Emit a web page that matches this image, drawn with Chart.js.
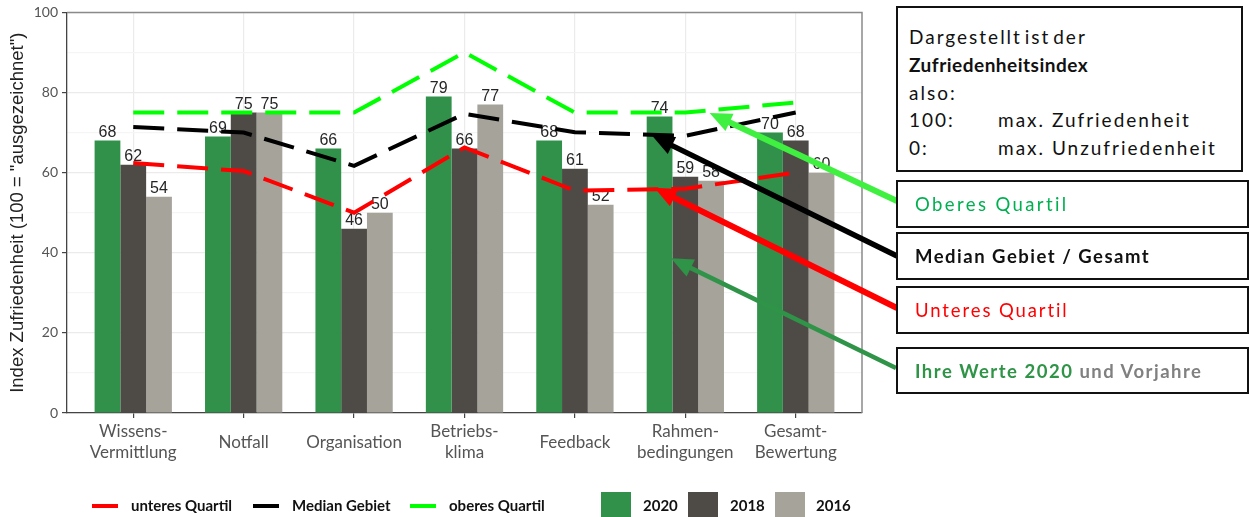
<!DOCTYPE html>
<html>
<head>
<meta charset="utf-8">
<script src="https://cdn.jsdelivr.net/npm/chart.js@4.4.1/dist/chart.umd.min.js"></script>
<style>
html,body{margin:0;padding:0;background:#fff;}
#wrap{position:relative;width:1249px;height:517px;overflow:hidden;background:#fff;}
#c{position:absolute;left:0;top:0;}
.box{position:absolute;border:2px solid #111;background:#fff;box-sizing:border-box;font-family:Lato,"Open Sans",sans-serif;font-size:18.5px;color:#111;}
.one{display:flex;align-items:center;padding-left:17px;}
.info{padding:15px 0 0 11px;line-height:27.8px;letter-spacing:2px;font-size:19px;}
.info .k{display:inline-block;width:89px;}
.leg{position:absolute;font-family:Lato,"Open Sans",sans-serif;font-weight:bold;font-size:15px;color:#111;white-space:nowrap;}
.sw{position:absolute;}
</style>
</head>
<body>
<div id="wrap">
<canvas id="c" width="1249" height="517"></canvas>
<div class="box info" style="left:896px;top:6px;width:347px;height:166px;">
  <div style="word-spacing:-4px;">Dargestellt ist der</div>
  <div style="font-weight:bold;letter-spacing:0.5px;">Zufriedenheitsindex</div>
  <div>also:</div>
  <div><span class="k">100:</span>max. Zufriedenheit</div>
  <div><span class="k">0:</span>max. Unzufriedenheit</div>
</div>
<div class="box one" style="left:896px;top:180px;width:353px;height:48px;color:#00b050;letter-spacing:2.4px;">Oberes Quartil</div>
<div class="box one" style="left:896px;top:232px;width:353px;height:48px;font-weight:bold;letter-spacing:1.5px;">Median Gebiet / Gesamt</div>
<div class="box one" style="left:896px;top:286px;width:353px;height:48px;color:#ff0000;letter-spacing:1.9px;">Unteres Quartil</div>
<div class="box one" style="left:896px;top:347px;width:353px;height:47px;font-weight:bold;letter-spacing:1.5px;"><span style="color:#2f9447;">Ihre Werte 2020</span>&nbsp;<span style="color:#808080;">und Vorjahre</span></div>
<div id="legend"></div>
</div>
<script>
// ---- data ----
const categories = [["Wissens-","Vermittlung"],["Notfall"],["Organisation"],["Betriebs-","klima"],["Feedback"],["Rahmen-","bedingungen"],["Gesamt-","Bewertung"]];
const yearLabels = ["2020","2018","2016"];
const values2020 = [68,69,66,79,68,74,70];
const values2018 = [62,75,46,66,61,59,68];
const values2016 = [54,75,50,77,52,58,60];
const lineLabels = ["unteres Quartil","Median Gebiet","oberes Quartil"];
const lowerQuartile = [62.4,60.4,50,66.3,55.5,56,60];
const medianArea = [71.4,70,61.7,74.7,70.1,69.2,75];
const upperQuartile = [75,75,75,90,75,75,77.5];
const yTicks = [0,20,40,60,80,100];

// ---- styles ----
const barColors = ["#31914a","#4e4b47","#a6a39b"];
const lineColors = ["#ff0000","#000000","#00ff00"];

const pts = arr => arr.map((v,i)=>({x:i,y:v}));
const barSeries = [values2020, values2018, values2016];
const lineSeries = [lowerQuartile, medianArea, upperQuartile];

const datasets = [];
barSeries.forEach((s,k)=>datasets.push({
  type:'bar', label:yearLabels[k], data:pts(s), backgroundColor:barColors[k],
  borderWidth:0, categoryPercentage:0.7, barPercentage:1.0, order:5
}));
lineSeries.forEach((s,k)=>datasets.push({
  type:'line', label:lineLabels[k], data:pts(s), borderColor:lineColors[k],
  borderWidth:4, borderDash:[31,13], pointRadius:0, tension:0, fill:false,
  borderCapStyle:'butt', order:3-k*0.5
}));

// arrows: tip in data coords, tail in page pixels
const arrows = [
  {color:"#40f040", width:6, tip:[5.22,74.9], tail:[897,201]},
  {color:"#000000", width:5.5, tip:[4.70,69.2], tail:[897,256]},
  {color:"#ff0000", width:6, tip:[4.72,56.2], tail:[897,308]},
  {color:"#2f9447", width:4.5, tip:[4.87,38.6], tail:[896,368]}
];

const labelPlugin = {
  id:'barLabels',
  afterDatasetDraw(chart,args){
    if(args.index!==0) return;
    const ctx=chart.ctx;
    ctx.save();
    ctx.font='16px "Liberation Sans", Arial, sans-serif';
    ctx.fillStyle='#262626';
    ctx.textAlign='center';
    ctx.textBaseline='alphabetic';
    for(let d=0; d<barSeries.length; d++){
      const meta=chart.getDatasetMeta(d);
      meta.data.forEach((el,i)=>{
        ctx.fillText(String(Math.round(barSeries[d][i])), el.x, el.y-4);
      });
    }
    ctx.restore();
  }
};

const borderPlugin = {
  id:'panelBorder',
  beforeDatasetsDraw(chart){
    const {ctx, chartArea:a} = chart;
    ctx.save();
    ctx.strokeStyle='#8a8a8a';
    ctx.lineWidth=1.5;
    ctx.beginPath();
    ctx.moveTo(a.left, a.top); ctx.lineTo(a.right, a.top); ctx.lineTo(a.right, a.bottom);
    ctx.stroke();
    ctx.restore();
  }
};

const arrowPlugin = {
  id:'arrows',
  afterDraw(chart){
    const ctx=chart.ctx, xs=chart.scales.x, ys=chart.scales.y;
    arrows.forEach(a=>{
      const x1=xs.getPixelForValue(a.tip[0]), y1=ys.getPixelForValue(a.tip[1]);
      const x0=a.tail[0], y0=a.tail[1];
      const ang=Math.atan2(y1-y0,x1-x0), c=Math.cos(ang), s=Math.sin(ang);
      const hl=22, hw=9.5;
      const bx=x1-hl*c, by=y1-hl*s;
      ctx.save();
      ctx.strokeStyle=a.color; ctx.fillStyle=a.color; ctx.lineWidth=a.width; ctx.lineCap='butt';
      ctx.beginPath(); ctx.moveTo(x0,y0); ctx.lineTo(bx+2*c,by+2*s); ctx.stroke();
      ctx.beginPath(); ctx.moveTo(x1,y1); ctx.lineTo(bx+hw*s,by-hw*c); ctx.lineTo(bx-hw*s,by+hw*c); ctx.closePath(); ctx.fill();
      ctx.restore();
    });
  }
};

const chart = new Chart(document.getElementById('c'), {
  data:{datasets},
  options:{
    responsive:false, animation:false, devicePixelRatio:1,
    layout:{padding:{left:0, top:11, right:387, bottom:0}},
    plugins:{legend:{display:false}, tooltip:{enabled:false}},
    scales:{
      x:{
        type:'linear', min:-0.6, max:6.6, offset:false, bounds:'data',
        afterBuildTicks(scale){ scale.ticks = categories.map((c,i)=>({value:i})); },
        afterFit(scale){ scale.height = 104; },
        ticks:{
          callback:(v)=>categories[v] || '',
          autoSkip:false, maxRotation:0, minRotation:0, crossAlign:'center',
          padding:14, color:'#555',
          font:{family:'Lato, "Open Sans", sans-serif', size:17, lineHeight:1.2}
        },
        grid:{offset:false, color:'#ebebeb', lineWidth:1.2, tickColor:'#444', tickLength:5, drawTicks:true},
        border:{display:true, color:'#444', width:1.3}
      },
      y:{
        type:'linear', min:0, max:100,
        afterFit(scale){ scale.width = 67; },
        ticks:{
          stepSize:10,
          callback:(v)=>yTicks.includes(v)?String(v):'',
          padding:4, color:'#555',
          font:{family:'Lato, "Open Sans", sans-serif', size:14}
        },
        grid:{
          color:(c)=>yTicks.includes(c.tick.value)?'#ebebeb':'#f5f5f5',
          tickColor:(c)=>yTicks.includes(c.tick.value)?'#444':'rgba(0,0,0,0)',
          lineWidth:1.2, tickLength:5
        },
        border:{display:true, color:'#444', width:1.3},
        title:{display:true, text:'Index Zufriedenheit (100 = "ausgezeichnet")', color:'#222',
          font:{family:'"Liberation Sans", Arial, sans-serif', size:18.5, lineHeight:1.2},
          padding:{top:7, bottom:0}}
      }
    }
  },
  plugins:[borderPlugin, labelPlugin, arrowPlugin]
});

// ---- HTML legend built from the datasets ----
(function(){
  const leg=document.getElementById('legend');
  const lineSw=[92,253,410], lineTx=[131,292,449];
  const boxSw=[601,688,775], boxTx=[643,730,816];
  const lines=chart.data.datasets.filter(d=>d.type==='line');
  const bars=chart.data.datasets.filter(d=>d.type==='bar');
  lines.forEach((d,i)=>{
    const s=document.createElement('div'); s.className='sw';
    s.style.cssText=`left:${lineSw[i]}px;top:504px;width:26px;height:4px;background:${d.borderColor};`;
    leg.appendChild(s);
    const t=document.createElement('div'); t.className='leg'; t.textContent=d.label;
    t.style.cssText=`left:${lineTx[i]}px;top:496px;`;
    leg.appendChild(t);
  });
  bars.forEach((d,i)=>{
    const s=document.createElement('div'); s.className='sw';
    s.style.cssText=`left:${boxSw[i]}px;top:492px;width:30px;height:27px;background:${d.backgroundColor};`;
    leg.appendChild(s);
    const t=document.createElement('div'); t.className='leg'; t.textContent=d.label;
    t.style.cssText=`left:${boxTx[i]}px;top:496px;`;
    leg.appendChild(t);
  });
})();
</script>
</body>
</html>
